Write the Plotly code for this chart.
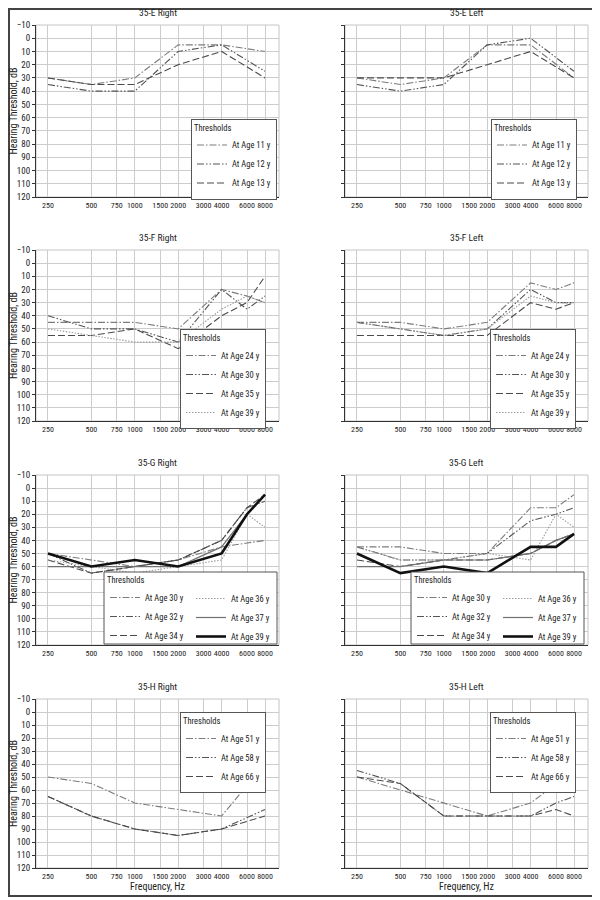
import plotly.graph_objects as go

# ---------------- data ----------------
FREQS = [250, 500, 1000, 2000, 4000, 6000, 8000]
TICK_VALS = [250, 500, 750, 1000, 1500, 2000, 3000, 4000, 6000, 8000]
TICK_TEXT = ["250", "500", "750", "1000", "1500", "2000", "3000", "4000", "6000", "8000"]
Y_TICKS = list(range(-10, 121, 10))

PANEL_TITLES = ["35-E Right", "35-E Left", "35-F Right", "35-F Left",
                "35-G Right", "35-G Left", "35-H Right", "35-H Left"]

E_AGES = ["At Age 11 y", "At Age 12 y", "At Age 13 y"]
E_RIGHT_11 = [30, 35, 30, 5, 5, None, 10]
E_RIGHT_12 = [35, 40, 40, 10, 5, None, 25]
E_RIGHT_13 = [30, 35, 35, 20, 10, None, 30]
E_LEFT_11 = [30, 35, 30, 5, 5, None, 30]
E_LEFT_12 = [35, 40, 35, 5, 0, None, 25]
E_LEFT_13 = [30, 30, 30, 20, 10, None, 30]

F_AGES = ["At Age 24 y", "At Age 30 y", "At Age 35 y", "At Age 39 y"]
F_RIGHT_24 = [45, 45, 45, 50, 20, 25, 30]
F_RIGHT_30 = [40, 50, 50, 60, 20, 35, 25]
F_RIGHT_35 = [55, 55, 50, 65, 40, 30, 10]
F_RIGHT_39 = [50, 55, 60, 60, 35, 25, 30]
F_LEFT_24 = [45, 45, 50, 45, 15, 20, 15]
F_LEFT_30 = [45, 50, 55, 50, 20, 30, 30]
F_LEFT_35 = [55, 55, 55, 55, 30, 35, 30]
F_LEFT_39 = [45, 50, 55, 50, 25, 30, 30]

G_AGES = ["At Age 30 y", "At Age 32 y", "At Age 34 y", "At Age 36 y", "At Age 37 y", "At Age 39 y"]
G_RIGHT_30 = [50, 55, 60, 55, 45, 42, 40]
G_RIGHT_32 = [50, 65, 60, 55, 40, 15, 10]
G_RIGHT_34 = [55, 65, 60, 55, 40, 15, 5]
G_RIGHT_36 = [55, 60, 65, 60, 55, 20, 30]
G_RIGHT_37 = [60, 60, 60, 60, 45, 20, 5]
G_RIGHT_39 = [50, 60, 55, 60, 50, 20, 5]
G_LEFT_30 = [45, 45, 50, 50, 15, 15, 5]
G_LEFT_32 = [45, 55, 55, 50, 25, 20, 15]
G_LEFT_34 = [55, 60, 55, 55, 50, 40, 35]
G_LEFT_36 = [45, 55, 55, 50, 55, 20, 30]
G_LEFT_37 = [60, 60, 55, 55, 50, 40, 35]
G_LEFT_39 = [50, 65, 60, 65, 45, 45, 35]

H_AGES = ["At Age 51 y", "At Age 58 y", "At Age 66 y"]
H_RIGHT_51 = [50, 55, 70, 75, 80, None, 40]
H_RIGHT_58 = [65, 80, 90, 95, 90, None, 75]
H_RIGHT_66 = [65, 80, 90, 95, 90, None, 80]
H_LEFT_51 = [50, 60, 70, 80, 70, None, 45]
H_LEFT_58 = [45, 55, 80, 80, 80, 70, 65]
H_LEFT_66 = [50, 55, 80, 80, 80, 75, 80]

PANELS = [
    (E_AGES, [E_RIGHT_11, E_RIGHT_12, E_RIGHT_13]),
    (E_AGES, [E_LEFT_11, E_LEFT_12, E_LEFT_13]),
    (F_AGES, [F_RIGHT_24, F_RIGHT_30, F_RIGHT_35, F_RIGHT_39]),
    (F_AGES, [F_LEFT_24, F_LEFT_30, F_LEFT_35, F_LEFT_39]),
    (G_AGES, [G_RIGHT_30, G_RIGHT_32, G_RIGHT_34, G_RIGHT_36, G_RIGHT_37, G_RIGHT_39]),
    (G_AGES, [G_LEFT_30, G_LEFT_32, G_LEFT_34, G_LEFT_36, G_LEFT_37, G_LEFT_39]),
    (H_AGES, [H_RIGHT_51, H_RIGHT_58, H_RIGHT_66]),
    (H_AGES, [H_LEFT_51, H_LEFT_58, H_LEFT_66]),
]

# ---------------- styling ----------------
W, H = 600, 900
OFF = 8  # the page body adds an 8px offset; layout positions below are page pixels
FONT = "Liberation Sans Narrow, Roboto Condensed, Arial Narrow, Liberation Sans, sans-serif"
STYLES = [
    dict(color="#7c7c7c", width=1.1, dash="7px,2px,1.5px,2px"),
    dict(color="#555555", width=1.1, dash="7px,2px,1.5px,2px,1.5px,2px"),
    dict(color="#4a4a4a", width=1.1, dash="7px,3px"),
    dict(color="#9c9c9c", width=1.1, dash="1.5px,1.5px"),
    dict(color="#707070", width=1.2, dash="solid"),
    dict(color="#111111", width=2.6, dash="solid"),
]


def px_x(p):
    return (p - OFF) / W


def px_y(p):
    return 1 - (p - OFF) / H


X_DOM = [(px_x(36), px_x(279)), (px_x(345), px_x(588))]
ROW_PX = [(25, 197), (250, 421), (475, 645), (699, 868)]
Y_DOM = [(px_y(b), px_y(t)) for t, b in ROW_PX]

fig = go.Figure()
layout = dict(
    width=W, height=H,
    margin=dict(l=0, r=0, t=0, b=0),
    paper_bgcolor="white", plot_bgcolor="white",
    font=dict(family=FONT, size=9, color="#222"),
    template="none",
    showlegend=True,
)
shapes = []
annotations = []

# legend placement: (legend id, x, y, xanchor, yanchor) in page pixels
LEG_POS = {
    0: [("legend", 277, 159, "right", "middle")],
    1: [("legend2", 577, 159, "right", "middle")],
    2: [("legend3", 266, 379, "right", "middle")],
    3: [("legend4", 576, 379, "right", "middle")],
    4: [("legend5", 105, 572, "left", "top"),
        ("legend6", 191, 584, "left", "top")],
    5: [("legend7", 412, 572, "left", "top"),
        ("legend8", 498, 584, "left", "top")],
    6: [("legend9", 266, 712, "right", "top")],
    7: [("legend10", 576, 712, "right", "top")],
}
G_BOXES = [(104, 277, 572, 644), (411, 584, 572, 644)]

for i, (ages, series) in enumerate(PANELS):
    row, col = divmod(i, 2)
    xa = "x" if i == 0 else f"x{i+1}"
    ya = "y" if i == 0 else f"y{i+1}"
    legs = LEG_POS[i]
    for k, (age, vals) in enumerate(zip(ages, series)):
        leg = legs[0][0] if (len(legs) == 1 or k < 3) else legs[1][0]
        fig.add_trace(go.Scatter(
            x=FREQS, y=vals, name=age, mode="lines", connectgaps=True,
            line=STYLES[k], xaxis=xa, yaxis=ya, legend=leg,
            hoverinfo="x+y+name",
        ))
    for j, (lid, lx, ly, xan, yan) in enumerate(legs):
        boxed = len(legs) == 1
        layout[lid] = dict(
            x=px_x(lx), y=px_y(ly), xanchor=xan, yanchor=yan, xref="paper", yref="paper",
            bgcolor="white" if boxed else "rgba(0,0,0,0)",
            bordercolor="#555", borderwidth=1 if boxed else 0,
            font=dict(size=8.5, family=FONT, color="#222"),
            title=dict(text="Thresholds" if j == 0 else "", font=dict(size=8.5, family=FONT, color="#222")),
            itemwidth=30, tracegroupgap=0,
        )
    xkey = "xaxis" if i == 0 else f"xaxis{i+1}"
    ykey = "yaxis" if i == 0 else f"yaxis{i+1}"
    layout[xkey] = dict(
        type="log", range=[2.315, 4.0], domain=list(X_DOM[col]), anchor=ya,
        tickvals=TICK_VALS, ticktext=TICK_TEXT, tickangle=0,
        tickfont=dict(size=8, family=FONT, color="#222"),
        showgrid=True, gridcolor="#cccccc", gridwidth=1, zeroline=False,
        showline=True, linecolor="#333", linewidth=1, ticks="", automargin=False,
        title=dict(text="Frequency, Hz" if row == 3 else "", font=dict(size=10, family=FONT), standoff=2),
    )
    layout[ykey] = dict(
        range=[120, -10], domain=list(Y_DOM[row]), anchor=xa,
        tickvals=Y_TICKS, showticklabels=(col == 0),
        tickfont=dict(size=9, family=FONT, color="#222"),
        showgrid=True, gridcolor="#cccccc", gridwidth=1, zeroline=False,
        showline=True, linecolor="#333", linewidth=1,
        ticks="outside", ticklen=3, tickcolor="#333", automargin=False,
        title=dict(text="Hearing Threshold, dB" if col == 0 else "", font=dict(size=10, family=FONT), standoff=3),
    )
    shapes.append(dict(type="rect", xref=f"{xa} domain", yref=f"{ya} domain",
                       x0=0, x1=1, y0=0, y1=1, line=dict(color="#c4c4c4", width=1), layer="below"))
    annotations.append(dict(text=PANEL_TITLES[i], xref=f"{xa} domain", yref=f"{ya} domain",
                            x=0.5, y=1, xanchor="center", yanchor="bottom", yshift=5,
                            showarrow=False, font=dict(size=9.5, family=FONT, color="#222")))

# box around the two-column legends of the G panels
for (bx0, bx1, by0, by1) in G_BOXES:
    shapes.append(dict(type="rect", xref="paper", yref="paper",
                       x0=px_x(bx0), x1=px_x(bx1), y0=px_y(by1), y1=px_y(by0),
                       line=dict(color="#555", width=1), fillcolor="white", layer="above"))
# outer frame
shapes.append(dict(type="rect", xref="paper", yref="paper",
                   x0=px_x(9), x1=px_x(596), y0=px_y(896), y1=px_y(9),
                   line=dict(color="#444", width=2)))

layout["shapes"] = shapes
layout["annotations"] = annotations
fig.update_layout(**layout)
fig.write_html("out.html")
